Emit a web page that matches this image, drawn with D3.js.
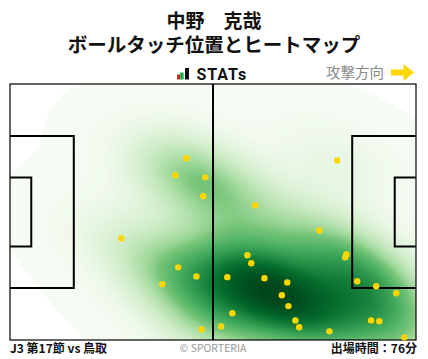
<!DOCTYPE html>
<html><head><meta charset="utf-8">
<script src="https://cdn.jsdelivr.net/npm/d3@7"></script>
<style>body{margin:0;background:#fff}svg{display:block}</style>
</head><body><svg id="c" width="428" height="359"></svg>
<script>
// ---- data ----
const playerName = "中野　克哉";
const chartTitle = "ボールタッチ位置とヒートマップ";
const matchLabel = "J3 第17節 vs 鳥取";
const minutesLabel = "出場時間：76分";
const creditLabel = "© SPORTERIA";
const directionLabel = "攻撃方向";
const logoLabel = "STATs";
const pitchLength = 105, pitchWidth = 68;
// ball touch positions (metres, x: own goal -> opponent goal, y: top -> bottom)
const touchX = [45.6,42.75,50.5,50.0,84.6,63.4,28.8,43.5,48.2,39.4,49.5,80.0,61.4,62.4,87.0,86.7,56.2,65.8,71.7,70.3,72.0,89.8,94.7,99.9,57.5,54.6,73.8,74.8,82.6,93.4,95.5,102.0];
const touchY = [19.7,24.25,24.8,29.8,20.3,32.2,41.0,48.7,51.1,53.2,65.2,38.9,45.5,47.6,45.3,46.0,51.3,51.6,52.7,56.1,59.0,52.4,53.7,55.6,60.9,64.4,62.8,64.6,65.7,62.8,63.0,67.3];

const svg = d3.select("#c");
const FONT = "'Noto Sans CJK JP','Noto Sans',sans-serif";
const x = d3.scaleLinear().domain([0, pitchLength]).range([10, 416]);
const y = d3.scaleLinear().domain([0, pitchWidth]).range([84, 340]);

// ---- titles ----
svg.append("text").attr("x", 214).attr("y", 27.5).attr("text-anchor", "middle")
  .attr("font-family", FONT).attr("font-weight", 700).attr("font-size", 19).attr("fill", "#111").text(playerName);
svg.append("text").attr("x", 214).attr("y", 52).attr("text-anchor", "middle")
  .attr("font-family", FONT).attr("font-weight", 700).attr("font-size", 19.5).attr("fill", "#111").text(chartTitle);

// logo
const logo = svg.append("g");
logo.append("rect").attr("x", 177).attr("y", 74.5).attr("width", 3.3).attr("height", 5).attr("fill", "#e02020");
logo.append("rect").attr("x", 180.3).attr("y", 72.5).attr("width", 3.3).attr("height", 7).attr("fill", "#1aa340");
logo.append("rect").attr("x", 185).attr("y", 68).attr("width", 4).attr("height", 11.5).attr("fill", "#111");
logo.append("text").attr("x", 196.5).attr("y", 79.5).attr("font-family", "Roboto, 'DejaVu Sans', sans-serif")
  .attr("font-weight", 700).attr("font-size", 16).attr("letter-spacing", 0.9).attr("fill", "#111").text(logoLabel);

// direction
svg.append("text").attr("x", 384).attr("y", 78).attr("text-anchor", "end")
  .attr("font-family", FONT).attr("font-size", 14.5).attr("fill", "#8a8a8a").text(directionLabel);
svg.append("path").attr("d", "M391,69.5 L403.5,69.5 L403.5,64 L414,72.5 L403.5,81 L403.5,75.5 L391,75.5 Z").attr("fill", "#ffd700");

// ---- heatmap (gaussian KDE, scott bandwidth, iso-proportion levels) ----
const bwAdjust = 1.05, thresh = 0.0015, nLevels = 90;
const pts = touchX.map((d, i) => [x(d), y(touchY[i])]);
const n = pts.length;
const mx = d3.mean(pts, p => p[0]), my = d3.mean(pts, p => p[1]);
let cxx = 0, cyy = 0, cxy = 0;
pts.forEach(p => { cxx += (p[0]-mx)**2; cyy += (p[1]-my)**2; cxy += (p[0]-mx)*(p[1]-my); });
cxx /= (n-1); cyy /= (n-1); cxy /= (n-1);
const f2 = Math.pow(n, -2/6) * bwAdjust * bwAdjust;
const a = cxx*f2, b = cxy*f2, c = cyy*f2;
const det = a*c - b*b;
const ia = c/det, ib = -b/det, ic = a/det;
const sx = Math.sqrt(a), sy = Math.sqrt(c);
const step = 2;
const x0 = d3.min(pts, p => p[0]) - 4*sx, x1 = d3.max(pts, p => p[0]) + 4*sx;
const y0 = d3.min(pts, p => p[1]) - 4*sy, y1 = d3.max(pts, p => p[1]) + 4*sy;
const nx = Math.ceil((x1-x0)/step)+1, ny = Math.ceil((y1-y0)/step)+1;
const vals = new Float64Array(nx*ny);
for (let j = 0; j < ny; j++) {
  const gy = y0 + j*step;
  for (let i = 0; i < nx; i++) {
    const gx = x0 + i*step;
    let s = 0;
    for (const p of pts) {
      const dx = gx - p[0], dy = gy - p[1];
      s += Math.exp(-0.5*(ia*dx*dx + 2*ib*dx*dy + ic*dy*dy));
    }
    vals[i + j*nx] = s;
  }
}
const sorted = Array.from(vals).sort((p, q) => q - p);
const total = d3.sum(sorted);
const cum = []; let acc = 0;
for (const v of sorted) { acc += v; cum.push(acc/total); }
const levels = d3.range(nLevels).map(k => {
  const q = thresh + (1 - thresh)*k/(nLevels-1);
  const idx = d3.bisectLeft(cum, 1 - q);
  return sorted[Math.min(idx, sorted.length-1)];
}).sort((p, q) => p - q);
// colour each band by its mass-quantile rank
const color = d3.scaleSequential(d3.interpolateGreens).domain([0, nLevels - 1]);
const contours = d3.contours().size([nx, ny]).smooth(true).thresholds(levels)(vals);

svg.append("clipPath").attr("id", "pitchClip").append("rect")
  .attr("x", x(0)).attr("y", y(0)).attr("width", x(pitchLength)-x(0)).attr("height", y(pitchWidth)-y(0));
const heat = svg.append("g").attr("clip-path", "url(#pitchClip)")
  .append("g").attr("transform", `translate(${x0 - step/2},${y0 - step/2}) scale(${step})`);
heat.selectAll("path").data(contours).join("path")
  .attr("d", d3.geoPath())
  .attr("fill", (d, i) => color(i + 0.5));

// ---- pitch lines ----
const lines = svg.append("g").attr("fill", "none").attr("stroke", "#000");
lines.append("rect").attr("x", x(0)).attr("y", y(0)).attr("width", x(pitchLength)-x(0)).attr("height", y(pitchWidth)-y(0)).attr("stroke-width", 1.2);
lines.append("line").attr("x1", x(pitchLength/2)).attr("x2", x(pitchLength/2)).attr("y1", y(0)).attr("y2", y(pitchWidth)).attr("stroke-width", 2);
const boxes = [[16.5, 40.32], [5.5, 18.32]];
boxes.forEach(([dep, wid]) => {
  const t = (pitchWidth - wid)/2, bt = t + wid;
  lines.append("path").attr("stroke-width", 2)
    .attr("d", `M${x(0)},${y(t)} H${x(dep)} V${y(bt)} H${x(0)}`);
  lines.append("path").attr("stroke-width", 2)
    .attr("d", `M${x(pitchLength)},${y(t)} H${x(pitchLength-dep)} V${y(bt)} H${x(pitchLength)}`);
});

// ---- touches ----
svg.append("g").selectAll("circle").data(touchX).join("circle")
  .attr("cx", d => x(d)).attr("cy", (d, i) => y(touchY[i])).attr("r", 3.2).attr("fill", "#ffd700");

// ---- footer ----
svg.append("text").attr("x", 10).attr("y", 353).attr("font-family", FONT).attr("font-weight", 700)
  .attr("font-size", 12).attr("fill", "#111").text(matchLabel);
svg.append("text").attr("x", 213).attr("y", 352).attr("text-anchor", "middle").attr("font-family", FONT)
  .attr("font-size", 10.5).attr("fill", "#999").text(creditLabel);
svg.append("text").attr("x", 417).attr("y", 353).attr("text-anchor", "end").attr("font-family", FONT).attr("font-weight", 700)
  .attr("font-size", 12).attr("fill", "#111").text(minutesLabel);
</script></body></html>
